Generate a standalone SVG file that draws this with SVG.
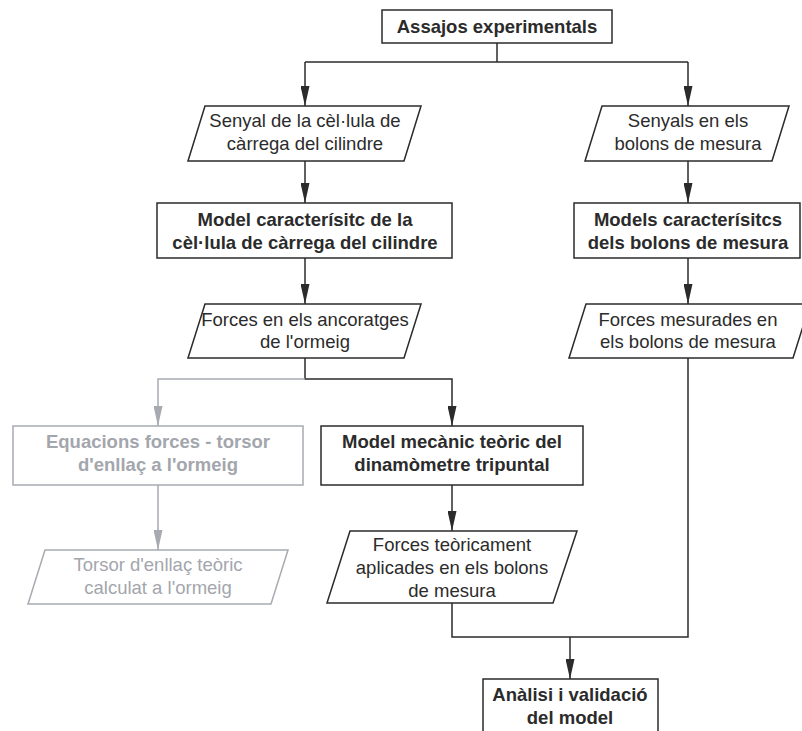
<svg xmlns="http://www.w3.org/2000/svg" width="802" height="731" viewBox="0 0 802 731">
<defs>
<style>
.box{fill:#fff;stroke:#2b2b2b;stroke-width:1.5}
.gbox{fill:#fff;stroke:#a7aab0;stroke-width:1.5}
.t{font-family:"Liberation Sans",Arial,sans-serif;font-size:18.5px;fill:#2b2b2b;text-anchor:middle}
.b{font-weight:bold}
.g{fill:#a3a6ac}
.ln{fill:none;stroke:#2b2b2b;stroke-width:1.5}
.gln{fill:none;stroke:#a7aab0;stroke-width:1.5}
</style>
<marker id="ah" markerWidth="20" markerHeight="9" refX="20" refY="4.5" orient="auto" markerUnits="userSpaceOnUse">
<path d="M0,0 L20,4.5 L0,9 Z" fill="#2b2b2b"/>
</marker>
<marker id="gah" markerWidth="20" markerHeight="9" refX="20" refY="4.5" orient="auto" markerUnits="userSpaceOnUse">
<path d="M0,0 L20,4.5 L0,9 Z" fill="#a7aab0"/>
</marker>
</defs>
<rect width="802" height="731" fill="#fff"/>
<g id="connectors">
<path class="ln" d="M497,43 V62"/>
<path class="ln" d="M305,62 H688"/>
<path class="ln" d="M305,62 V106" marker-end="url(#ah)"/>
<path class="ln" d="M688,62 V106" marker-end="url(#ah)"/>
<path class="ln" d="M305,161 V203" marker-end="url(#ah)"/>
<path class="ln" d="M688,161 V203" marker-end="url(#ah)"/>
<path class="ln" d="M305,258 V304" marker-end="url(#ah)"/>
<path class="ln" d="M688,258 V304" marker-end="url(#ah)"/>
<path class="ln" d="M305,358 V379 H452 V426" marker-end="url(#ah)"/>
<path class="gln" d="M305,379 H158 V426" marker-end="url(#gah)"/>
<path class="gln" d="M158,485 V550" marker-end="url(#gah)"/>
<path class="ln" d="M452,485 V531" marker-end="url(#ah)"/>
<path class="ln" d="M452,603 V637 H688 V358"/>
<path class="ln" d="M570,637 V679" marker-end="url(#ah)"/>
</g>
<g id="n1">
<rect class="box" x="382" y="10" width="230" height="33"/>
<text class="t b" x="497" y="33">Assajos experimentals</text>
</g>
<g id="n2">
<polygon class="box" points="205,106 421,106 404,161 188,161"/>
<text class="t" x="305" y="127">Senyal de la cèl·lula de</text>
<text class="t" x="305" y="150">càrrega del cilindre</text>
</g>
<g id="n3">
<polygon class="box" points="602,106 789,106 772,161 585,161"/>
<text class="t" x="688" y="127">Senyals en els</text>
<text class="t" x="688" y="150">bolons de mesura</text>
</g>
<g id="n4">
<rect class="box" x="157" y="203" width="295" height="55"/>
<text class="t b" x="305" y="226">Model caracterísitc de la</text>
<text class="t b" x="305" y="249">cèl·lula de càrrega del cilindre</text>
</g>
<g id="n5">
<rect class="box" x="574" y="203" width="226" height="55"/>
<text class="t b" x="688" y="226">Models caracterísitcs</text>
<text class="t b" x="688" y="249">dels bolons de mesura</text>
</g>
<g id="n6">
<polygon class="box" points="205,304 421,304 404,358 188,358"/>
<text class="t" x="305" y="326">Forces en els ancoratges</text>
<text class="t" x="305" y="348">de l'ormeig</text>
</g>
<g id="n7">
<polygon class="box" points="586,304 810,304 793,358 569,358"/>
<text class="t" x="688" y="326">Forces mesurades en</text>
<text class="t" x="688" y="348">els bolons de mesura</text>
</g>
<g id="n8">
<rect class="gbox" x="13" y="426" width="290" height="59"/>
<text class="t b g" x="158" y="448">Equacions forces - torsor</text>
<text class="t b g" x="158" y="471">d'enllaç a l'ormeig</text>
</g>
<g id="n9">
<rect class="box" x="321" y="426" width="262" height="59"/>
<text class="t b" x="452" y="448">Model mecànic teòric del</text>
<text class="t b" x="452" y="471">dinamòmetre tripuntal</text>
</g>
<g id="n10">
<polygon class="gbox" points="45,550 288,550 271,604 28,604"/>
<text class="t g" x="158" y="571">Torsor d'enllaç teòric</text>
<text class="t g" x="158" y="594">calculat a l'ormeig</text>
</g>
<g id="n11">
<polygon class="box" points="350,531 577,531 553,603 327,603"/>
<text class="t" x="452" y="551">Forces teòricament</text>
<text class="t" x="452" y="574">aplicades en els bolons</text>
<text class="t" x="452" y="597">de mesura</text>
</g>
<g id="n12">
<rect class="box" x="483" y="679" width="175" height="62"/>
<text class="t b" x="570" y="701">Anàlisi i validació</text>
<text class="t b" x="570" y="724">del model</text>
</g>
</svg>
